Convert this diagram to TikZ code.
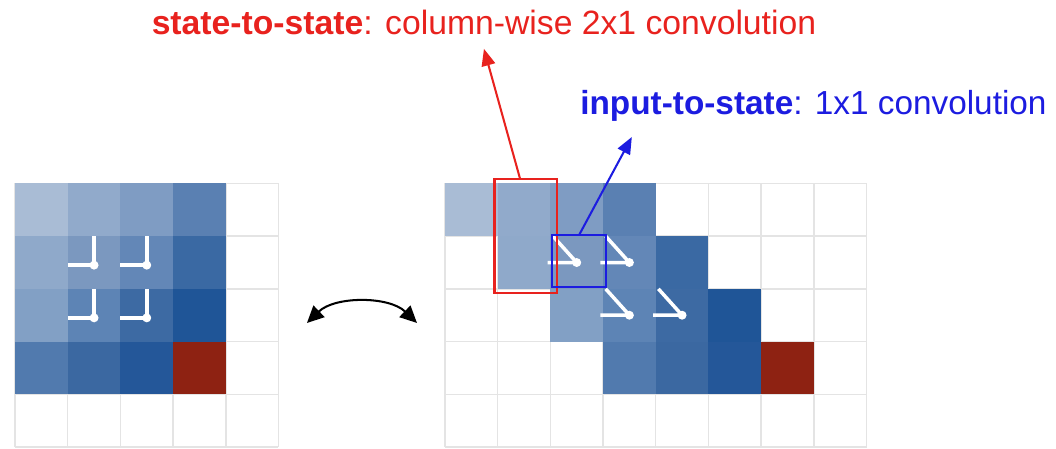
\documentclass[tikz,border=0pt]{standalone}
\usepackage{fontspec}
\setmainfont{Liberation Sans}
\usetikzlibrary{arrows.meta}
\definecolor{s2sred}{HTML}{E8221E}
\definecolor{i2sblue}{HTML}{1C1CE0}
\definecolor{gridgray}{HTML}{E4E4E4}
% cell shades, row/column of the first grid
\definecolor{h00}{HTML}{A9BCD5}\definecolor{h01}{HTML}{91AACB}
\definecolor{h02}{HTML}{7F9CC3}\definecolor{h03}{HTML}{5A80B2}
\definecolor{h10}{HTML}{8FA9CA}\definecolor{h11}{HTML}{7B98BF}
\definecolor{h12}{HTML}{6387B7}\definecolor{h13}{HTML}{3A69A3}
\definecolor{h20}{HTML}{82A0C5}\definecolor{h21}{HTML}{5D84B5}
\definecolor{h22}{HTML}{3D6AA3}\definecolor{h23}{HTML}{1F5597}
\definecolor{h30}{HTML}{517AAE}\definecolor{h31}{HTML}{3B68A1}
\definecolor{h32}{HTML}{245799}\definecolor{h33}{HTML}{8E2212}
\begin{document}
\begin{tikzpicture}[font=\fontsize{18.2}{21}\selectfont,
  gridline/.style={draw=gridgray,line width=0.8pt},
  convmark/.style={white,line width=1.9pt},
  markdot/.style={white},
  s2sbox/.style={draw=s2sred,line width=1.1pt,inner sep=0pt,outer sep=0pt},
  i2sbox/.style={draw=i2sblue,line width=1.1pt,inner sep=0pt,outer sep=0pt},
  pointer/.style={line width=1.1pt,-{Triangle[length=0.32cm,width=0.26cm]}},
  swaparrow/.style={line width=1.1pt,{Triangle[length=0.32cm,width=0.3cm]}-{Triangle[length=0.32cm,width=0.3cm]}}]
\useasboundingbox (0,0) rectangle (20.04,8.52);

% input grid
\begin{scope}[shift={(0.285,0.038)}]
  \draw[gridline] (0,0) grid (5,5);
  \foreach \r in {0,...,3}
    \foreach \c in {0,...,3}
      \fill[fill=h\r\c] (\c,4-\r) rectangle ++(1,1);
  \foreach \r in {1,2}
    \foreach \c in {1,2} {
      \draw[convmark] (\c+0.5,5-\r) -- (\c+0.5,4.45-\r) -- (\c,4.45-\r);
      \fill[markdot] (\c+0.5,4.45-\r) circle (0.085);
    }
\end{scope}

% skewed grid
\begin{scope}[shift={(8.444,0.038)}]
  \draw[gridline] (0,0) grid (8,5);
  \foreach \r in {0,...,3}
    \foreach \c in {0,...,3}
      \fill[fill=h\r\c] (\c+\r,4-\r) rectangle ++(1,1);
  \foreach \r in {1,2}
    \foreach \c in {1,2} {
      \draw[convmark] (\c+\r+0.05,5-\r) -- (\c+\r+0.5,4.5-\r) -- (\c+\r-0.05,4.5-\r);
      \fill[markdot] (\c+\r+0.5,4.5-\r) circle (0.085);
    }
  \node[s2sbox,minimum width=1.19cm,minimum height=2.16cm] (colconv) at (1.535,4.01) {};
  \node[i2sbox,minimum width=1.02cm,minimum height=0.99cm] (pointconv) at (2.55,3.535) {};
\end{scope}

\node[s2sred,anchor=base,inner sep=0pt,inner ysep=0.25cm] (s2s) at (9.184,7.856)
  {\textbf{state-to-state}: column-wise 2x1 convolution};
\node[i2sblue,anchor=base west,inner sep=0pt,font=\fontsize{18}{21}\selectfont] (i2s) at (11.006,6.338)
  {\textbf{input-to-state}: 1x1 convolution};
\coordinate (i2stip) at (11.99,5.92);
\coordinate (swapL) at (5.825,2.391);
\coordinate (swapR) at (7.913,2.391);

\draw[pointer,s2sred] ([xshift=-0.11cm]colconv.north) -- (s2s.south);
\draw[pointer,i2sblue] (pointconv.north) -- (i2stip);
\draw[swaparrow] (swapL) .. controls (6.357,2.903) and (7.381,2.903) .. (swapR);
\end{tikzpicture}
\end{document}
